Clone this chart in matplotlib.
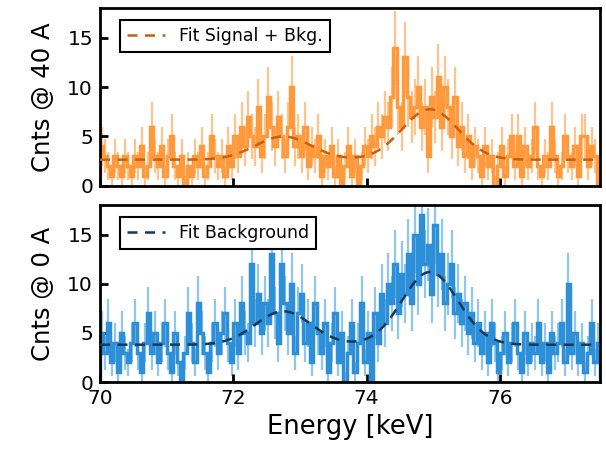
import numpy as np
import matplotlib.pyplot as plt

# binning of the spectrum (keV)
e_min, e_max, bin_width = 70.0, 77.5, 0.05

# counts per bin, 40 A run
counts_40A = [4, 3, 2, 1, 3, 2, 1, 3, 2, 1,
              3, 2, 4, 1, 2, 6, 3, 2, 4, 1,
              3, 5, 2, 1, 3, 0, 2, 1, 3, 2,
              4, 1, 2, 5, 3, 2, 3, 1, 4, 2,
              5, 3, 6, 4, 7, 5, 4, 8, 3, 5,
              9, 6, 4, 7, 5, 3, 6, 10, 4, 5,
              3, 6, 2, 4, 3, 5, 1, 3, 2, 4,
              1, 3, 0, 2, 4, 1, 3, 0, 2, 4,
              3, 5, 4, 6, 5, 7, 6, 9, 14, 8,
              6, 13, 9, 7, 8, 10, 6, 8, 3, 9,
              7, 11, 6, 10, 8, 5, 9, 4, 6, 3,
              5, 2, 4, 3, 1, 4, 2, 3, 0, 2,
              4, 1, 3, 5, 2, 5, 1, 4, 2, 3,
              6, 2, 1, 3, 2, 6, 3, 1, 2, 5,
              3, 2, 4, 1, 5, 5, 2, 4, 3, 0]

# counts per bin, 0 A run
counts_0A = [5, 3, 6, 2, 4, 1, 5, 3, 2, 4,
             6, 3, 1, 4, 7, 3, 5, 2, 4, 6,
             3, 1, 5, 2, 0, 3, 7, 4, 2, 8,
             5, 3, 1, 4, 6, 3, 5, 7, 4, 2,
             6, 3, 8, 5, 4, 12, 6, 9, 5, 8,
             6, 13, 7, 4, 12, 8, 5, 10, 3, 7,
             9, 4, 6, 2, 8, 5, 3, 6, 1, 4,
             7, 2, 5, 0, 3, 6, 1, 4, 8, 2,
             5, 0, 7, 4, 9, 6, 10, 8, 12, 7,
             11, 9, 13, 8, 15, 10, 17, 12, 14, 9,
             16, 11, 13, 8, 10, 12, 7, 9, 6, 8,
             5, 7, 4, 6, 3, 5, 2, 6, 4, 1,
             3, 5, 2, 4, 6, 3, 1, 5, 2, 4,
             3, 6, 2, 4, 1, 5, 3, 4, 6, 2,
             10, 3, 5, 2, 4, 1, 3, 6, 2, 4]

# fit results: flat background + two gaussian lines
peak_pos = [72.75, 74.95]
peak_sigma = [0.42, 0.42]
fit_40A_bkg = 2.65
fit_40A_amp = [2.35, 5.1]
fit_0A_bkg = 3.8
fit_0A_amp = [3.4, 7.4]


def model(x, bkg, amps):
    y = np.full_like(x, bkg)
    for a, mu, s in zip(amps, peak_pos, peak_sigma):
        y += a * np.exp(-0.5 * ((x - mu) / s) ** 2)
    return y


edges = np.arange(e_min, e_max + bin_width / 2, bin_width)
centers = 0.5 * (edges[1:] + edges[:-1])
x_fit = np.linspace(e_min, e_max, 600)

fig = plt.figure(figsize=(6.06, 4.5), dpi=100)
ax_top = fig.add_axes([0.165, 0.587, 0.825, 0.395])
ax_bot = fig.add_axes([0.165, 0.151, 0.825, 0.393], sharex=ax_top)

panels = [
    (ax_top, counts_40A, fit_40A_bkg, fit_40A_amp, '#ff9a3c', '#ffc48c', '#c8600f',
     'Fit Signal + Bkg.', 'Cnts @ 40 A'),
    (ax_bot, counts_0A, fit_0A_bkg, fit_0A_amp, '#2e8fd9', '#8ec6ee', '#17385a',
     'Fit Background', 'Cnts @ 0 A'),
]

for ax, counts, bkg, amps, col, col_err, col_fit, fit_label, ylab in panels:
    counts = np.array(counts, dtype=float)
    err = np.sqrt(np.maximum(counts, 1))
    ax.errorbar(centers, counts, yerr=err, fmt='none', ecolor=col_err,
                elinewidth=1.6, zorder=1)
    ax.stairs(counts, edges, color=col, linewidth=2.5, zorder=2)
    ax.plot(x_fit, model(x_fit, bkg, amps), '--', color=col_fit,
            linewidth=1.8, dashes=(4, 3), label=fit_label, zorder=3)

    ax.set_xlim(e_min, e_max)
    ax.set_ylim(0, 18)
    ax.set_yticks([0, 5, 10, 15])
    ax.set_xticks([70, 72, 74, 76])
    ax.set_ylabel(ylab, fontsize=17.5, labelpad=9)
    ax.tick_params(direction='in', length=6, width=2, labelsize=14.5, pad=5)
    for sp in ax.spines.values():
        sp.set_linewidth(2)
    leg = ax.legend(loc='upper left', bbox_to_anchor=(0.04, 0.935),
                    borderaxespad=0, fontsize=12.5, fancybox=False,
                    framealpha=1, edgecolor='black', handlelength=2.2)
    leg.get_frame().set_linewidth(1.5)

ax_top.tick_params(labelbottom=False)
ax_bot.set_xlabel('Energy [keV]', fontsize=18.5, labelpad=4)
fig.align_ylabels([ax_top, ax_bot])

fig.savefig('out.png', dpi=100)
